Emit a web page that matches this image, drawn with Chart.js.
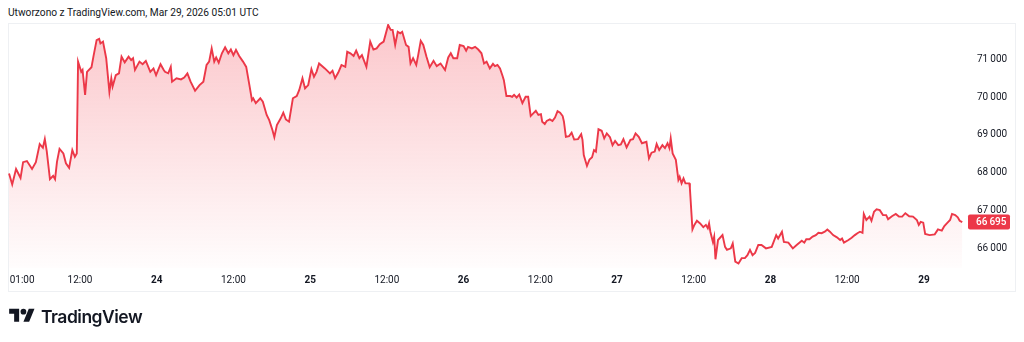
<!DOCTYPE html>
<html>
<head>
<meta charset="utf-8">
<script src="https://cdn.jsdelivr.net/npm/chart.js@4.4.1/dist/chart.umd.min.js"></script>
<style>
  html, body { margin: 0; padding: 0; background: #fff; }
  body { width: 1024px; height: 342px; position: relative; overflow: hidden; font-family: Roboto, "Open Sans", sans-serif; color: #131722; }
  #header { position: absolute; left: 8px; top: 7px; font-size: 10.2px; line-height: 12px; white-space: nowrap; }
  #pane { position: absolute; left: 8px; top: 23px; width: 1006px; height: 267px; border: 1px solid #eef0f3; }
  #chart { position: absolute; left: 0; top: 0; }
  #logo { position: absolute; left: 9px; top: 306px; }
  #brand { position: absolute; left: 41px; top: 308px; font-family: Inter, Roboto, sans-serif; font-weight: 600; font-size: 17.5px; line-height: 17.5px; letter-spacing: -0.5px; }
</style>
</head>
<body>
<div id="header">Utworzono z TradingView.com, Mar 29, 2026 05:01 UTC</div>
<div id="pane"></div>
<canvas id="chart" width="1024" height="342"></canvas>
<svg id="logo" width="26" height="20" viewBox="0 0 36 28"><path fill="#131722" d="M14 22H7V11H0V4h14v18zM28 22h-8l7.5-18h8L28 22z"/><circle fill="#131722" cx="20" cy="8" r="4"/></svg>
<div id="brand">TradingView</div>
<script>
// hours since Mar 23 00:00 and price of each point
const hours = [
  0.9, 1.4, 2.0, 2.7, 3.1, 3.7, 4.5, 5.1, 5.7, 6.2,
  6.5, 6.8, 7.3, 7.8, 8.1, 8.4, 8.8, 9.4, 9.8, 10.3,
  10.8, 11.2, 11.5, 11.7, 12.2, 12.4, 12.8, 13.1, 13.8, 14.1,
  14.6, 15.0, 15.2, 15.6, 16.1, 16.6, 16.9, 17.1, 17.6, 18.1,
  18.5, 19.0, 19.6, 20.0, 20.3, 20.6, 21.3, 21.8, 22.3, 23.0,
  23.5, 23.9, 24.6, 25.1, 25.3, 25.8, 26.2, 26.4, 27.1, 27.8,
  28.3, 28.8, 29.3, 30.0, 30.7, 31.3, 31.8, 32.2, 32.6, 33.0,
  33.3, 33.7, 34.2, 34.7, 35.2, 35.6, 36.0, 36.4, 36.9, 37.5,
  38.0, 38.5, 38.9, 39.1, 39.5, 40.2, 40.6, 41.2, 41.6, 42.1,
  42.4, 42.8, 43.4, 43.8, 44.2, 44.7, 45.3, 45.9, 46.3, 46.8,
  47.2, 47.7, 48.2, 48.6, 49.0, 49.4, 50.3, 51.1, 51.5, 51.9,
  52.4, 52.9, 53.5, 53.8, 54.3, 54.8, 55.2, 55.7, 56.1, 56.8,
  57.4, 57.9, 58.4, 58.9, 59.5, 60.2, 60.6, 60.9, 61.3, 61.7,
  62.1, 62.4, 63.0, 63.4, 63.7, 64.1, 64.6, 64.9, 65.3, 65.7,
  66.2, 66.7, 67.3, 67.8, 68.4, 69.1, 69.6, 70.0, 70.4, 71.0,
  71.4, 72.0, 72.4, 72.7, 73.3, 73.8, 74.3, 74.8, 75.2, 75.6,
  76.1, 76.6, 76.9, 77.3, 77.7, 78.1, 78.3, 78.7, 79.3, 79.6,
  79.9, 80.3, 80.7, 81.2, 81.7, 82.1, 82.5, 82.9, 83.3, 83.7,
  84.1, 84.3, 84.7, 85.0, 85.5, 85.9, 86.3, 86.7, 87.1, 87.5,
  87.7, 88.0, 88.5, 88.9, 89.3, 89.9, 90.4, 90.6, 90.8, 91.3,
  91.7, 92.1, 92.4, 92.7, 93.1, 93.6, 94.0, 94.4, 94.9, 95.3,
  95.7, 96.2, 96.6, 97.0, 97.5, 98.1, 98.5, 98.9, 99.4, 99.9,
  100.6, 101.0, 101.4, 101.9, 102.2, 102.6, 103.1, 103.5, 103.9, 104.2,
  104.4, 104.7, 105.2, 105.6, 105.8, 106.1, 106.4, 106.7, 107.3, 107.4,
  107.8, 108.1, 108.5, 109.0, 109.5, 109.9, 110.2, 110.4, 110.6, 111.0,
  111.2, 111.4, 111.8, 112.5, 112.9, 113.2, 113.8, 114.1, 114.5, 115.0,
  115.5, 116.0, 116.4, 116.8, 117.2, 117.6, 118.1, 118.6, 119.3, 120.2,
  120.9, 121.2, 121.8, 122.1, 122.8, 123.5, 124.1, 124.9, 125.3, 125.6,
  126.1, 126.6, 127.1, 127.5, 128.0, 128.5, 128.9, 129.3, 129.8, 130.4,
  130.9, 131.2, 131.5, 132.2, 132.7, 133.2, 133.6, 134.0, 134.4, 134.6,
  135.0, 135.5, 135.8, 136.2, 136.6, 137.1, 137.6, 138.1, 138.4, 139.0,
  139.6, 140.1, 140.6, 141.1, 141.7, 142.3, 142.9, 143.2, 143.5, 143.9,
  144.2, 144.9, 145.7, 146.2, 146.8, 147.2, 147.7, 148.1, 148.4, 148.9,
  149.3, 149.6, 150.0
];
const prices = [
  67980, 67690, 68100, 67860, 68280, 68310, 68100, 68280, 68760, 68660,
  68890, 68570, 67830, 67920, 67830, 68290, 68630, 68510, 68250, 68130,
  68600, 68420, 68510, 70940, 70670, 70720, 70060, 70670, 70790, 71070,
  71510, 71540, 71420, 71470, 71030, 70140, 70500, 70280, 70580, 70630,
  71070, 70920, 71070, 70980, 71030, 70720, 70940, 70870, 70960, 70670,
  70760, 70580, 70870, 70720, 70670, 70630, 70800, 70410, 70500, 70470,
  70520, 70630, 70410, 70170, 70320, 70410, 70850, 70940, 71290, 70940,
  71050, 70910, 71160, 71320, 71160, 71260, 71110, 71250, 71090, 70940,
  70800, 70320, 69920, 69970, 69840, 69970, 69880, 69530, 69390, 69130,
  68940, 69260, 69440, 69590, 69410, 69350, 69970, 70030, 70190, 70500,
  70230, 70320, 70740, 70540, 70670, 70890, 70760, 70630, 70700, 70500,
  70650, 70850, 70800, 71200, 71160, 71090, 71230, 71030, 71110, 70800,
  71470, 71260, 71290, 71400, 71470, 71910, 71780, 71780, 71380, 71730,
  71690, 71730, 71380, 71330, 70890, 71030, 70850, 71110, 71490, 71380,
  71070, 70790, 70960, 70820, 70890, 70720, 71050, 71160, 71030, 71030,
  71380, 71350, 71230, 71330, 71290, 71330, 71260, 71160, 70890, 70940,
  70760, 70880, 70820, 70850, 70760, 70560, 70450, 70030, 70030, 70010,
  70060, 69990, 70070, 69840, 70010, 70010, 69500, 69570, 69640, 69530,
  69550, 69350, 69290, 69370, 69410, 69370, 69460, 69630, 69590, 69500,
  69350, 68950, 68970, 69060, 68880, 68890, 69020, 68870, 68470, 68180,
  68350, 68410, 68600, 68560, 69150, 69110, 68910, 69040, 68940, 68730,
  68840, 68730, 68750, 68890, 68670, 68870, 68890, 69040, 68950, 68780,
  68820, 68380, 68530, 68560, 68760, 68600, 68730, 68650, 68780, 68650,
  68910, 68510, 68340, 67810, 67890, 67720, 67850, 67720, 67720, 67590,
  66500, 66620, 66730, 66660, 66560, 66620, 66530, 66660, 66440, 66170,
  66310, 65710, 66220, 66350, 66040, 65960, 66000, 66130, 65650, 65600,
  65740, 65740, 65820, 65960, 65820, 65880, 66090, 66090, 66000, 66040,
  66350, 66260, 66440, 66170, 66150, 66000, 66090, 66200, 66150, 66240,
  66240, 66310, 66350, 66410, 66400, 66440, 66500, 66440, 66350, 66290,
  66220, 66260, 66150, 66220, 66280, 66350, 66400, 66440, 66410, 66910,
  66750, 66840, 66730, 66970, 67030, 67010, 66880, 66880, 66770, 66850,
  66910, 66840, 66840, 66930, 66850, 66840, 66750, 66620, 66700, 66680,
  66380, 66350, 66370, 66500, 66470, 66590, 66680, 66750, 66910, 66880,
  66820, 66730, 66695
];
const xTicks = [1, 12, 24, 36, 48, 60, 72, 84, 96, 108, 120, 132, 144];
const xTickLabels = ['01:00', '12:00', '24', '12:00', '25', '12:00', '26', '12:00', '27', '12:00', '28', '12:00', '29'];
const yTicks = [66000, 67000, 68000, 69000, 70000, 71000];
const lastPrice = 66695;

const X_MIN = 0.74, X_MAX = 150.9;
const Y_MIN = 65480, Y_MAX = 71935;
const red = '#ec3848';

function fmt(v) {
    return String(v).replace(/\B(?=(\d{3})+(?!\d))/g, '\u2009');
}

// red box with the last price on the price scale
const lastPricePlugin = {
    id: 'lastPrice',
    afterDraw(chart) {
        const ctx = chart.ctx;
        const area = chart.chartArea;
        const y = chart.scales.y.getPixelForValue(lastPrice);
        ctx.save();
        ctx.fillStyle = red;
        ctx.beginPath();
        ctx.roundRect(area.right, y - 7.5, 42, 15, 2);
        ctx.fill();
        ctx.fillStyle = '#fff';
        ctx.font = '500 10px Roboto';
        ctx.textBaseline = 'middle';
        ctx.fillText(fmt(lastPrice), area.right + 8, y + 0.5);
        ctx.restore();
    }
};

const ctx = document.getElementById('chart').getContext('2d');
new Chart(ctx, {
    type: 'line',
    data: {
        datasets: [{
            data: hours.map((h, i) => ({ x: h, y: prices[i] })),
            borderColor: red,
            borderWidth: 1.9,
            pointRadius: 0,
            tension: 0,
            fill: 'start',
            backgroundColor: function (c) {
                const area = c.chart.chartArea;
                if (!area) return 'rgba(242, 54, 69, 0.15)';
                const g = c.chart.ctx.createLinearGradient(0, area.top, 0, area.bottom);
                g.addColorStop(0, 'rgba(242, 54, 69, 0.28)');
                g.addColorStop(1, 'rgba(242, 54, 69, 0.01)');
                return g;
            }
        }]
    },
    options: {
        responsive: false,
        animation: false,
        layout: { padding: { left: 8, top: 24, right: 9, bottom: 51 } },
        plugins: {
            legend: { display: false },
            tooltip: { enabled: false }
        },
        scales: {
            x: {
                type: 'linear',
                min: X_MIN,
                max: X_MAX,
                grid: { display: false, drawTicks: false },
                border: { display: false },
                afterBuildTicks: s => { s.ticks = xTicks.map(v => ({ value: v })).concat([{ value: X_MAX }]); },
                afterFit: s => { s.height = 23; s.paddingLeft = 0; s.paddingRight = 0; },
                ticks: {
                    autoSkip: false,
                    maxRotation: 0,
                    align: 'inner',
                    padding: 6,
                    color: '#131722',
                    font: c => ({ family: 'Roboto', size: 10, weight: c.tick && c.tick.value % 24 === 0 ? 'bold' : 'normal' }),
                    callback: v => {
                        const i = xTicks.indexOf(v);
                        return i >= 0 ? xTickLabels[i] : '';
                    }
                }
            },
            y: {
                position: 'right',
                min: Y_MIN,
                max: Y_MAX,
                grid: { display: false, drawTicks: false },
                border: { display: false },
                afterBuildTicks: s => { s.ticks = yTicks.map(v => ({ value: v })); },
                afterFit: s => { s.width = 47; },
                ticks: {
                    padding: 9,
                    color: '#131722',
                    font: { family: 'Roboto', size: 10 },
                    callback: v => fmt(v)
                }
            }
        }
    },
    plugins: [lastPricePlugin]
});
</script>
</body>
</html>
